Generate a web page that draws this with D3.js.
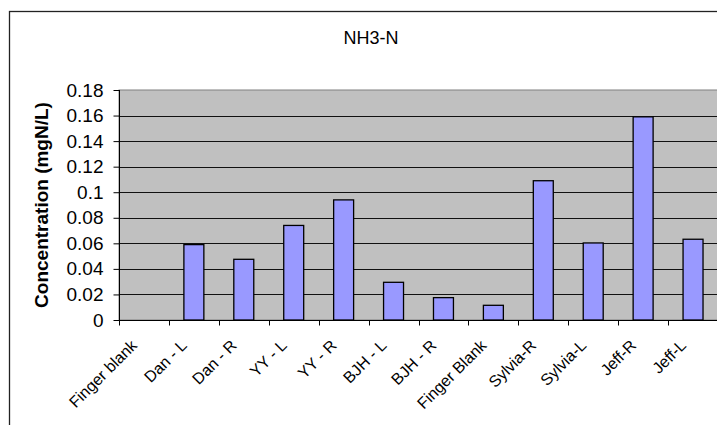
<!DOCTYPE html>
<html><head><meta charset="utf-8">
<script src="https://cdn.jsdelivr.net/npm/d3@7"></script>
<style>html,body{margin:0;padding:0;background:#fff;}svg{display:block;}</style>
</head><body>
<svg id="chart" width="717" height="425"></svg>
<script>
const categories = ["Finger blank","Dan - L","Dan - R","YY - L","YY - R","BJH - L","BJH - R","Finger Blank","Sylvia-R","Sylvia-L","Jeff-R","Jeff-L"];
const values = [0, 0.059, 0.0475, 0.074, 0.094, 0.0295, 0.0175, 0.0115, 0.109, 0.0603, 0.159, 0.0632];
const yTicks = [0, 0.02, 0.04, 0.06, 0.08, 0.1, 0.12, 0.14, 0.16, 0.18];
const yTickLabels = ["0","0.02","0.04","0.06","0.08","0.1","0.12","0.14","0.16","0.18"];
const title = "NH3-N";
const yTitle = "Concentration (mgN/L)";

const svg = d3.select("#chart");
const font = "Liberation Sans, Arial, sans-serif";
const L = 119, R = 718, T = 90, B = 320;

// outer chart border
svg.append("rect").attr("x", 9.5).attr("y", 11.5).attr("width", 724).attr("height", 430)
  .attr("fill", "#fff").attr("stroke", "#222").attr("stroke-width", 1.3);

const xb = d3.scaleBand().domain(categories).range([L, R]);
const y = d3.scaleLinear().domain([0, 0.18]).range([B, T]);

// plot area
svg.append("rect").attr("x", L).attr("y", T).attr("width", R - L).attr("height", B - T)
  .attr("fill", "#c0c0c0").attr("stroke", "#808080").attr("stroke-width", 1);

// gridlines
svg.append("g").selectAll("line").data(yTicks.filter(d => d > 0 && d < 0.18)).join("line")
  .attr("x1", L).attr("x2", R).attr("y1", d => Math.round(y(d)) + 0.5).attr("y2", d => Math.round(y(d)) + 0.5)
  .attr("stroke", "#111").attr("stroke-width", 1);

// bars
const bw = xb.bandwidth() / 2.5;
svg.append("g").selectAll("rect").data(values).join("rect")
  .attr("x", (d, i) => xb(categories[i]) + (xb.bandwidth() - bw) / 2)
  .attr("width", bw)
  .attr("y", d => y(d))
  .attr("height", d => B - y(d))
  .attr("fill", d => d > 0 ? "#9999ff" : "none")
  .attr("stroke", d => d > 0 ? "#000" : "none")
  .attr("stroke-width", 1.3);

// y axis
const yAxis = d3.axisLeft(y).tickValues(yTicks).tickFormat((d, i) => yTickLabels[i]).tickSize(6).tickPadding(10);
const gy = svg.append("g").attr("transform", `translate(${L + 0.5},0)`).call(yAxis);
gy.select(".domain").attr("stroke", "#000").attr("d", `M0,${T}V${B}`);
gy.selectAll(".tick line").attr("stroke", "#000");
gy.selectAll(".tick text").attr("font-family", font).attr("font-size", 19).attr("fill", "#000");

// x axis
const gx = svg.append("g").attr("transform", `translate(0,${B + 0.5})`);
gx.append("line").attr("x1", L).attr("x2", R).attr("stroke", "#000");
gx.selectAll("line.tk").data(d3.range(categories.length + 1)).join("line").attr("class", "tk")
  .attr("x1", i => Math.round(L + i * xb.step()) + 0.5).attr("x2", i => Math.round(L + i * xb.step()) + 0.5)
  .attr("y1", 0).attr("y2", 5).attr("stroke", "#000");
gx.selectAll("text").data(categories).join("text")
  .attr("transform", d => `translate(${xb(d) + xb.bandwidth() / 2 - 6},${26}) rotate(-45)`)
  .attr("text-anchor", "end")
  .attr("font-family", font).attr("font-size", 16).attr("fill", "#000")
  .text(d => d);

// title
svg.append("text").attr("x", 371).attr("y", 44).attr("text-anchor", "middle")
  .attr("font-family", font).attr("font-size", 18).attr("fill", "#000").text(title);

// y title
svg.append("text").attr("transform", `translate(48,${(T + B) / 2}) rotate(-90)`)
  .attr("text-anchor", "middle").attr("font-family", font).attr("font-size", 19)
  .attr("font-weight", "bold").attr("fill", "#000").text(yTitle);
</script>
</body></html>
